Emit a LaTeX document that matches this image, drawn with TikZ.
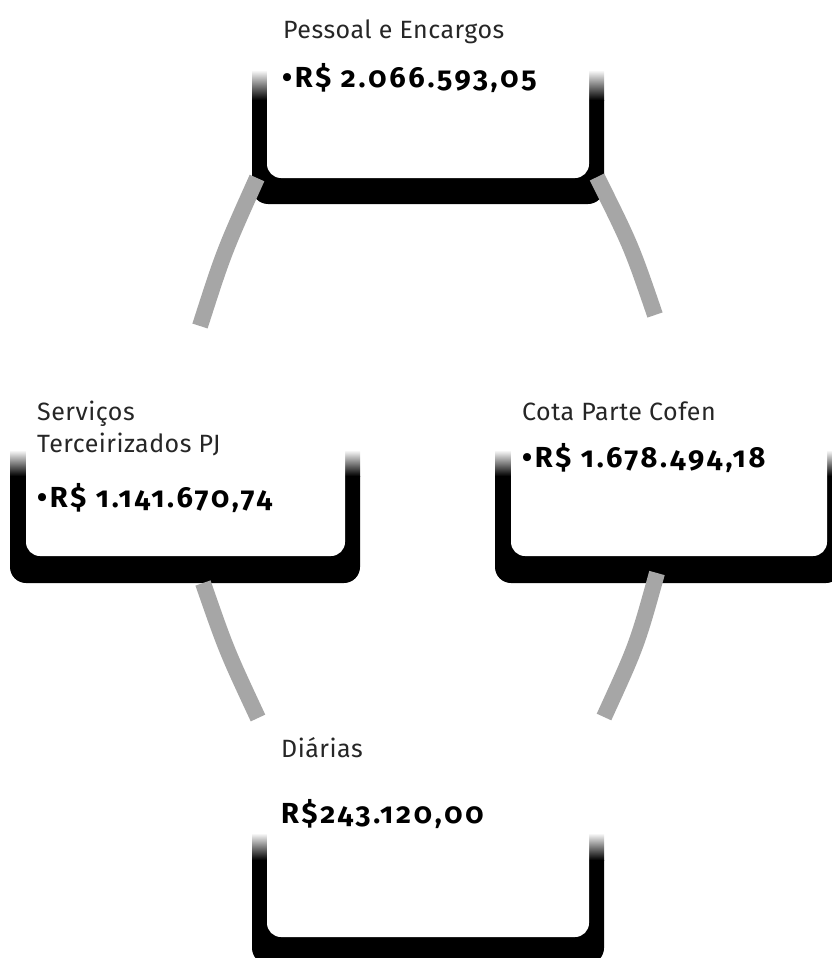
\documentclass[tikz,border=0pt]{standalone}
\usepackage{fontspec}
\setmainfont{Fira Sans}
\newfontfamily\labelfont[LetterSpace=2]{Fira Sans}
\newfontfamily\amountfont[Numbers=OldStyle,LetterSpace=9.5]{Fira Sans}
\begin{document}
\begin{tikzpicture}[x=1pt,y=-1pt,
  innerbox/.style={fill=white,rounded corners=14pt,draw=none,inner sep=0pt},
  label/.style={anchor=base west,inner sep=0pt,font=\labelfont\fontsize{25}{28}\selectfont,text=black!85},
  amount/.style={anchor=base west,inner sep=0pt,font=\amountfont\bfseries\fontsize{29}{32}\selectfont},
  ring/.style={draw=black!35,line width=16pt,line cap=butt}]
\useasboundingbox (0,0) rectangle (832,958);
\clip (0,0) rectangle (832,958);
% ---- shadow frames ----
% top box
\shade[top color=white,bottom color=black] (252,70) rectangle (604,100);
\fill[black] (252,100) {[rounded corners=16pt] -- (252,204) -- (604,204)} -- (604,100) -- cycle;
% left box
\shade[top color=white,bottom color=black] (10,450) rectangle (360,476);
\fill[black] (10,476) {[rounded corners=16pt] -- (10,583) -- (360,583)} -- (360,476) -- cycle;
% right box
\shade[top color=white,bottom color=black] (495,450) rectangle (842,476);
\fill[black] (495,476) {[rounded corners=16pt] -- (495,583) -- (842,583)} -- (842,476) -- cycle;
% bottom box
\shade[top color=white,bottom color=black] (252,833) rectangle (604,860);
\fill[black] (252,860) {[rounded corners=16pt] -- (252,964) -- (604,964)} -- (604,860) -- cycle;
% ---- white boxes ----
\node[innerbox,minimum width=322pt,minimum height=218pt] (P) at (428,69) {};
\node[innerbox,minimum width=319pt,minimum height=211pt] (S) at (185.5,450.5) {};
\node[innerbox,minimum width=316pt,minimum height=216pt] (C) at (669,448) {};
\node[innerbox,minimum width=322pt,minimum height=215pt] (D) at (428,829.5) {};
% ---- ring connectors ----
\coordinate (p1) at (257,178); \coordinate (s1) at (200,326);
\coordinate (p2) at (597,177); \coordinate (c1) at (655,315);
\coordinate (s2) at (203,583); \coordinate (d1) at (258,718);
\coordinate (c2) at (657,573); \coordinate (d2) at (604,717);
\draw[ring] (p1) .. controls (223.8,252) .. (s1);
\draw[ring] (p2) .. controls (631.3,246) .. (c1);
\draw[ring] (s2) .. controls (226.5,650.5) .. (d1);
\draw[ring] (c2) .. controls (637,645) .. (d2);
% ---- texts ----
\node[label] (pt) at (283,38) {Pessoal e Encargos};
\node[amount] (pa) at (282,87) {•R\$ 2.066.593,05};
\node[label] (st1) at (37,420) {Serviços};
\node[label] (st2) at (37,452) {Terceirizados PJ};
\node[amount] (sa) at (37,507) {•R\$ 1.141.670,74};
\node[label] (ct) at (522,420) {Cota Parte Cofen};
\node[amount] (ca) at (522,467) {•R\$ 1.678.494,18};
\node[label] (dt) at (281,757) {Diárias};
\node[amount] (da) at (281,823) {R\$243.120,00};
\end{tikzpicture}
\end{document}
